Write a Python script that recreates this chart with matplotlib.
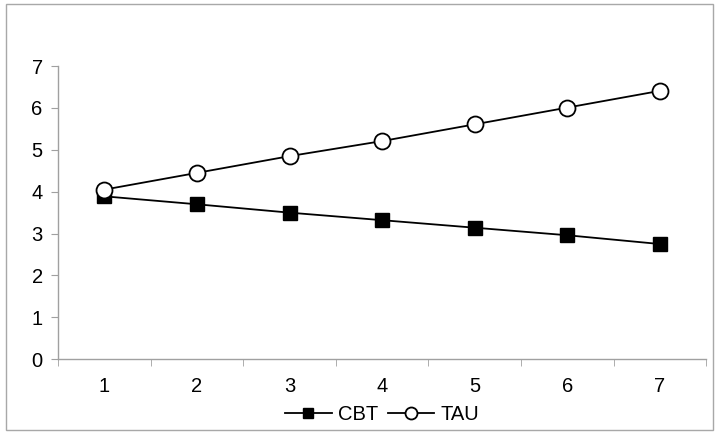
import matplotlib as mpl
import numpy as np

mpl.use('agg')

import matplotlib.pyplot as plt
from matplotlib.patches import Rectangle

sessions = [1, 2, 3, 4, 5, 6, 7]
cbt = [3.89, 3.70, 3.50, 3.32, 3.14, 2.96, 2.75]
tau = [4.05, 4.45, 4.85, 5.21, 5.61, 6.01, 6.41]

plt.rcParams['font.family'] = ['Liberation Sans', 'DejaVu Sans']

fig = plt.figure(figsize=(7.22, 4.38), dpi=100)
ax = fig.add_axes([0.0803, 0.180, 0.898, 0.669])

ax.plot(sessions, cbt, color='black', lw=1.3, marker='s', ms=10,
        mfc='black', mec='black', label='CBT')
ax.plot(sessions, tau, color='black', lw=1.3, marker='o', ms=11.5,
        mfc='white', mec='black', mew=1.3, label='TAU')

ax.set_xlim(0.5, 7.5)
ax.set_ylim(0, 7)
ax.set_yticks(range(0, 8))
ax.set_xticks(sessions)
ax.set_xticks(np.arange(0.5, 8, 1), minor=True)
ax.tick_params(axis='x', which='major', length=0, pad=13, labelsize=14.5)
ax.tick_params(axis='x', which='minor', length=5, color='#a0a0a0', direction='out')
ax.tick_params(axis='y', length=5, color='#a0a0a0', direction='out', labelsize=14.5, pad=6)

for side in ['top', 'right']:
    ax.spines[side].set_visible(False)
for side in ['left', 'bottom']:
    ax.spines[side].set_color('#a0a0a0')
    ax.spines[side].set_linewidth(1)

leg = ax.legend(loc='upper center', bbox_to_anchor=(0.5, -0.13), ncol=2,
                frameon=False, fontsize=14.5, handlelength=2.3, handletextpad=0.3,
                columnspacing=0.5, borderaxespad=0, markerscale=0.75)

fig.patches.append(Rectangle((0.008, 0.018), 0.98, 0.972, transform=fig.transFigure,
                             fill=False, edgecolor='#a8a8a8', lw=1))

fig.savefig('out.png', dpi=100)
